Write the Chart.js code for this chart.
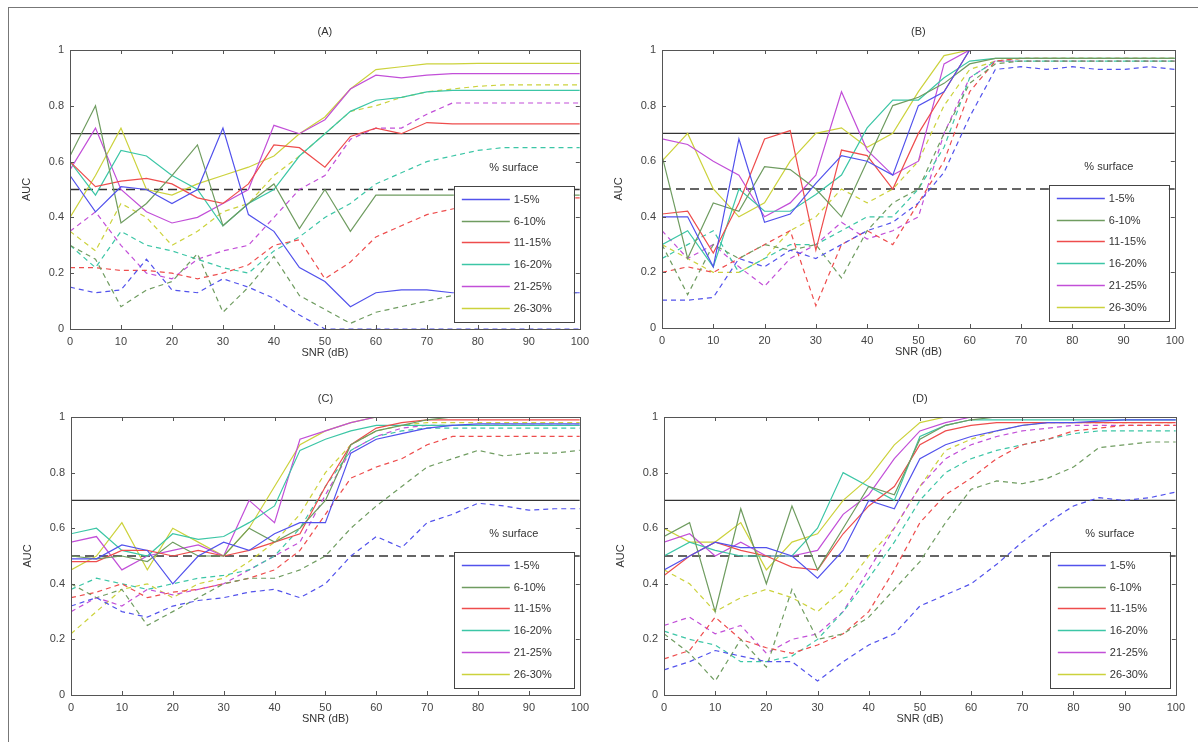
<!DOCTYPE html>
<html>
<head>
<meta charset="utf-8">
<script src="https://cdn.jsdelivr.net/npm/chart.js@4.4.1/dist/chart.umd.min.js"></script>
<style>
  body { margin: 0; background: #fff; }
  #fig { position: relative; width: 1198px; height: 742px; overflow: hidden; background: #fff; }
  #frame { position: absolute; left: 8px; top: 7px; width: 1400px; height: 900px; border-left: 1px solid #777; border-top: 1px solid #777; }
  canvas { position: absolute; }
</style>
</head>
<body>
<div id="fig">
  <div id="frame"></div>
  <canvas id="cA" width="575" height="354" style="left:20px;top:20px"></canvas>
  <canvas id="cB" width="578" height="353" style="left:612px;top:20px"></canvas>
  <canvas id="cC" width="574" height="353" style="left:21px;top:387px"></canvas>
  <canvas id="cD" width="577" height="353" style="left:614px;top:387px"></canvas>
</div>
<script>
// x positions (dB)
const snr = [0, 5, 10, 15, 20, 25, 30, 35, 40, 45, 50, 55, 60, 65, 70, 75, 80, 85, 90, 95, 100];
const groups = ['1-5%', '6-10%', '11-15%', '16-20%', '21-25%', '26-30%'];
const colors = ['#5252ec', '#6f9c60', '#ee4d4d', '#3cc6a6', '#c24fd8', '#ccd23c'];
const thresholds = [0.7, 0.5];

// (A) solid / dashed, one row per group
const solidA = [
  [0.55, 0.42, 0.51, 0.50, 0.45, 0.50, 0.72, 0.41, 0.35, 0.22, 0.17, 0.08, 0.13, 0.14, 0.14, 0.13, 0.13, 0.13, 0.13, 0.13, 0.13],
  [0.62, 0.80, 0.38, 0.45, 0.55, 0.66, 0.37, 0.45, 0.52, 0.36, 0.50, 0.35, 0.48, 0.48, 0.48, 0.48, 0.48, 0.48, 0.48, 0.48, 0.48],
  [0.60, 0.51, 0.53, 0.54, 0.52, 0.47, 0.45, 0.52, 0.66, 0.65, 0.58, 0.69, 0.72, 0.70, 0.74, 0.735, 0.735, 0.735, 0.735, 0.735, 0.735],
  [0.60, 0.48, 0.64, 0.62, 0.55, 0.50, 0.37, 0.45, 0.50, 0.62, 0.70, 0.78, 0.82, 0.83, 0.85, 0.855, 0.855, 0.855, 0.855, 0.855, 0.855],
  [0.57, 0.72, 0.50, 0.42, 0.38, 0.40, 0.45, 0.50, 0.73, 0.70, 0.75, 0.86, 0.91, 0.90, 0.91, 0.915, 0.915, 0.915, 0.915, 0.915, 0.915],
  [0.40, 0.55, 0.72, 0.50, 0.48, 0.52, 0.55, 0.58, 0.62, 0.70, 0.76, 0.86, 0.93, 0.94, 0.95, 0.95, 0.952, 0.952, 0.952, 0.952, 0.952]
];
const dashedA = [
  [0.15, 0.13, 0.14, 0.25, 0.14, 0.13, 0.18, 0.15, 0.11, 0.05, 0.00, 0.00, 0.00, 0.00, 0.00, 0.00, 0.00, 0.00, 0.00, 0.00, 0.00],
  [0.30, 0.25, 0.08, 0.14, 0.17, 0.27, 0.06, 0.15, 0.26, 0.12, 0.07, 0.02, 0.06, 0.08, 0.10, 0.12, 0.13, 0.13, 0.13, 0.13, 0.13],
  [0.22, 0.22, 0.21, 0.21, 0.20, 0.18, 0.20, 0.23, 0.30, 0.32, 0.18, 0.24, 0.33, 0.37, 0.41, 0.43, 0.45, 0.46, 0.47, 0.47, 0.47],
  [0.30, 0.22, 0.35, 0.30, 0.28, 0.25, 0.22, 0.20, 0.28, 0.33, 0.40, 0.45, 0.52, 0.56, 0.60, 0.62, 0.64, 0.65, 0.65, 0.65, 0.65],
  [0.35, 0.42, 0.30, 0.20, 0.18, 0.25, 0.28, 0.30, 0.40, 0.50, 0.55, 0.68, 0.72, 0.72, 0.77, 0.81, 0.81, 0.81, 0.81, 0.81, 0.81],
  [0.35, 0.28, 0.45, 0.40, 0.30, 0.35, 0.42, 0.45, 0.55, 0.62, 0.70, 0.78, 0.80, 0.83, 0.85, 0.86, 0.87, 0.875, 0.875, 0.875, 0.875]
];

// (B)
const solidB = [
  [0.40, 0.40, 0.22, 0.68, 0.38, 0.41, 0.52, 0.62, 0.60, 0.55, 0.80, 0.85, 1, 1, 1, 1, 1, 1, 1, 1, 1],
  [0.62, 0.25, 0.45, 0.42, 0.58, 0.57, 0.50, 0.40, 0.60, 0.80, 0.83, 0.88, 0.95, 0.97, 0.97, 0.97, 0.97, 0.97, 0.97, 0.97, 0.97],
  [0.41, 0.42, 0.27, 0.45, 0.68, 0.71, 0.28, 0.64, 0.62, 0.50, 0.70, 0.85, 1, 1, 1, 1, 1, 1, 1, 1, 1],
  [0.30, 0.35, 0.22, 0.50, 0.42, 0.42, 0.48, 0.55, 0.72, 0.82, 0.82, 0.90, 0.96, 0.97, 0.97, 0.97, 0.97, 0.97, 0.97, 0.97, 0.97],
  [0.68, 0.66, 0.60, 0.55, 0.40, 0.45, 0.55, 0.85, 0.64, 0.55, 0.60, 0.95, 1, 1, 1, 1, 1, 1, 1, 1, 1],
  [0.60, 0.70, 0.50, 0.40, 0.45, 0.60, 0.70, 0.72, 0.65, 0.70, 0.85, 0.98, 1, 1, 1, 1, 1, 1, 1, 1, 1]
];
const dashedB = [
  [0.10, 0.10, 0.11, 0.25, 0.22, 0.28, 0.25, 0.30, 0.35, 0.38, 0.45, 0.56, 0.76, 0.93, 0.94, 0.93, 0.94, 0.93, 0.93, 0.94, 0.93],
  [0.30, 0.12, 0.30, 0.25, 0.30, 0.28, 0.30, 0.18, 0.35, 0.45, 0.50, 0.70, 0.88, 0.95, 0.96, 0.96, 0.96, 0.96, 0.96, 0.96, 0.96],
  [0.20, 0.22, 0.20, 0.25, 0.30, 0.35, 0.08, 0.30, 0.35, 0.30, 0.45, 0.60, 0.85, 0.96, 0.97, 0.97, 0.97, 0.97, 0.97, 0.97, 0.97],
  [0.25, 0.30, 0.35, 0.20, 0.25, 0.30, 0.30, 0.35, 0.40, 0.40, 0.50, 0.65, 0.90, 0.96, 0.96, 0.96, 0.96, 0.96, 0.96, 0.96, 0.96],
  [0.35, 0.25, 0.30, 0.22, 0.15, 0.25, 0.30, 0.38, 0.32, 0.35, 0.40, 0.70, 0.90, 0.96, 0.96, 0.96, 0.96, 0.96, 0.96, 0.96, 0.96],
  [0.30, 0.25, 0.20, 0.20, 0.25, 0.35, 0.40, 0.50, 0.45, 0.50, 0.60, 0.80, 0.93, 0.96, 0.97, 0.97, 0.97, 0.97, 0.97, 0.97, 0.97]
];

// (C)
const solidC = [
  [0.49, 0.49, 0.54, 0.52, 0.40, 0.50, 0.55, 0.52, 0.58, 0.62, 0.62, 0.87, 0.92, 0.94, 0.96, 0.97, 0.975, 0.975, 0.975, 0.975, 0.975],
  [0.50, 0.49, 0.50, 0.48, 0.55, 0.50, 0.50, 0.60, 0.55, 0.60, 0.70, 0.90, 0.95, 0.97, 0.99, 1, 1, 1, 1, 1, 1],
  [0.48, 0.48, 0.52, 0.52, 0.50, 0.52, 0.50, 0.52, 0.55, 0.58, 0.75, 0.90, 0.96, 0.98, 0.99, 0.99, 0.99, 0.99, 0.99, 0.99, 0.99],
  [0.58, 0.60, 0.52, 0.50, 0.58, 0.56, 0.57, 0.62, 0.68, 0.88, 0.92, 0.95, 0.97, 0.97, 0.97, 0.97, 0.97, 0.97, 0.97, 0.97, 0.97],
  [0.55, 0.57, 0.45, 0.50, 0.52, 0.54, 0.50, 0.70, 0.62, 0.92, 0.95, 0.98, 1, 1, 1, 1, 1, 1, 1, 1, 1],
  [0.45, 0.50, 0.62, 0.45, 0.60, 0.55, 0.50, 0.60, 0.75, 0.90, 0.95, 0.98, 1, 1, 1, 1, 1, 1, 1, 1, 1]
];
const dashedC = [
  [0.32, 0.35, 0.30, 0.28, 0.32, 0.34, 0.35, 0.37, 0.38, 0.35, 0.40, 0.50, 0.57, 0.53, 0.62, 0.65, 0.69, 0.68, 0.665, 0.67, 0.67],
  [0.40, 0.35, 0.38, 0.25, 0.30, 0.35, 0.40, 0.42, 0.42, 0.45, 0.50, 0.60, 0.68, 0.75, 0.82, 0.85, 0.88, 0.86, 0.87, 0.87, 0.88],
  [0.35, 0.37, 0.40, 0.35, 0.37, 0.38, 0.40, 0.42, 0.45, 0.52, 0.65, 0.78, 0.82, 0.85, 0.90, 0.93, 0.93, 0.93, 0.93, 0.93, 0.93],
  [0.38, 0.42, 0.40, 0.38, 0.40, 0.42, 0.43, 0.45, 0.50, 0.60, 0.75, 0.88, 0.93, 0.95, 0.96, 0.96, 0.96, 0.96, 0.96, 0.96, 0.96],
  [0.30, 0.35, 0.32, 0.38, 0.36, 0.38, 0.40, 0.45, 0.50, 0.55, 0.72, 0.88, 0.93, 0.96, 0.97, 0.97, 0.97, 0.97, 0.97, 0.97, 0.97],
  [0.22, 0.30, 0.38, 0.40, 0.35, 0.40, 0.42, 0.48, 0.55, 0.65, 0.80, 0.90, 0.95, 0.97, 0.98, 0.98, 0.98, 0.98, 0.98, 0.98, 0.98]
];

// (D)
const solidD = [
  [0.45, 0.50, 0.55, 0.53, 0.53, 0.50, 0.42, 0.52, 0.70, 0.67, 0.85, 0.90, 0.93, 0.95, 0.97, 0.98, 0.98, 0.985, 0.99, 0.99, 0.99],
  [0.57, 0.62, 0.30, 0.67, 0.40, 0.68, 0.45, 0.60, 0.75, 0.72, 0.92, 0.97, 0.99, 1, 1, 1, 1, 1, 1, 1, 1],
  [0.43, 0.50, 0.55, 0.52, 0.50, 0.46, 0.45, 0.58, 0.68, 0.75, 0.90, 0.95, 0.97, 0.98, 0.98, 0.98, 0.98, 0.98, 0.98, 0.98, 0.98],
  [0.50, 0.55, 0.52, 0.50, 0.50, 0.50, 0.60, 0.80, 0.75, 0.70, 0.93, 0.97, 0.99, 0.99, 0.99, 0.99, 0.99, 0.99, 0.99, 0.99, 0.99],
  [0.55, 0.58, 0.50, 0.55, 0.50, 0.50, 0.52, 0.65, 0.72, 0.85, 0.95, 0.98, 1, 1, 1, 1, 1, 1, 1, 1, 1],
  [0.60, 0.55, 0.55, 0.62, 0.45, 0.55, 0.58, 0.70, 0.78, 0.90, 0.98, 1, 1, 1, 1, 1, 1, 1, 1, 1, 1]
];
const dashedD = [
  [0.09, 0.12, 0.16, 0.14, 0.12, 0.12, 0.05, 0.12, 0.18, 0.22, 0.32, 0.36, 0.40, 0.47, 0.55, 0.62, 0.68, 0.71, 0.70, 0.71, 0.73],
  [0.22, 0.15, 0.05, 0.20, 0.10, 0.38, 0.20, 0.22, 0.28, 0.38, 0.48, 0.62, 0.74, 0.77, 0.76, 0.78, 0.82, 0.89, 0.90, 0.91, 0.91],
  [0.13, 0.16, 0.28, 0.20, 0.17, 0.15, 0.18, 0.22, 0.30, 0.45, 0.62, 0.72, 0.78, 0.85, 0.90, 0.92, 0.95, 0.96, 0.97, 0.97, 0.97],
  [0.23, 0.20, 0.18, 0.12, 0.12, 0.14, 0.20, 0.30, 0.42, 0.55, 0.70, 0.80, 0.85, 0.88, 0.90, 0.92, 0.94, 0.95, 0.95, 0.95, 0.95],
  [0.25, 0.28, 0.22, 0.25, 0.15, 0.20, 0.22, 0.30, 0.45, 0.60, 0.75, 0.85, 0.90, 0.93, 0.95, 0.96, 0.97, 0.97, 0.97, 0.97, 0.97],
  [0.45, 0.40, 0.30, 0.35, 0.38, 0.35, 0.30, 0.38, 0.50, 0.60, 0.75, 0.88, 0.92, 0.95, 0.97, 0.98, 0.98, 0.98, 0.98, 0.98, 0.98]
];

Chart.defaults.font.family = '"Liberation Sans", Arial, sans-serif';
Chart.defaults.font.size = 11;
Chart.defaults.color = '#444';

const toPoints = vals => vals.map((v, i) => ({ x: snr[i], y: v }));

// MATLAB-style box, inward ticks, panel title and the legend inside the axes
const panelDecor = {
  id: 'panelDecor',
  afterDatasetsDraw(chart, args, opts) {
    const { ctx, chartArea: a, scales: { x, y } } = chart;
    ctx.save();
    ctx.strokeStyle = '#555';
    ctx.lineWidth = 1;
    ctx.strokeRect(Math.round(a.left) + 0.5, Math.round(a.top) + 0.5, Math.round(a.right - a.left), Math.round(a.bottom - a.top));
    ctx.beginPath();
    x.ticks.forEach(t => {
      const px = Math.round(x.getPixelForValue(t.value)) + 0.5;
      ctx.moveTo(px, a.bottom); ctx.lineTo(px, a.bottom - 4);
      ctx.moveTo(px, a.top); ctx.lineTo(px, a.top + 4);
    });
    y.ticks.forEach(t => {
      const py = Math.round(y.getPixelForValue(t.value)) + 0.5;
      ctx.moveTo(a.left, py); ctx.lineTo(a.left + 4, py);
      ctx.moveTo(a.right, py); ctx.lineTo(a.right - 4, py);
    });
    ctx.stroke();

    ctx.fillStyle = '#333';
    ctx.font = '11px "Liberation Sans", Arial, sans-serif';
    ctx.textAlign = 'center';
    ctx.textBaseline = 'middle';
    ctx.fillText(opts.title, (a.left + a.right) / 2, a.top - 18);

    const w = 120, h = 136;
    const lx = a.right - 6 - w, ly = a.bottom - 7 - h;
    ctx.fillText('% surface', lx + w / 2, ly - 18);
    ctx.fillStyle = '#fff';
    ctx.fillRect(lx, ly, w, h);
    ctx.strokeStyle = '#444';
    ctx.strokeRect(Math.round(lx) + 0.5, Math.round(ly) + 0.5, w, h);
    groups.forEach((g, i) => {
      const yy = Math.round(ly + 13 + i * 21.7) + 0.5;
      ctx.strokeStyle = colors[i];
      ctx.lineWidth = 1.5;
      ctx.beginPath();
      ctx.moveTo(lx + 8, yy); ctx.lineTo(lx + 56, yy);
      ctx.stroke();
      ctx.fillStyle = '#333';
      ctx.textAlign = 'left';
      ctx.fillText(g, lx + 60, yy);
    });
    ctx.restore();
  }
};

function makePanel(id, title, solid, dashed) {
  const datasets = [];
  solid.forEach((vals, i) => datasets.push({
    label: groups[i], data: toPoints(vals), borderColor: colors[i], borderWidth: 1.2
  }));
  dashed.forEach((vals, i) => datasets.push({
    label: groups[i] + ' (dashed)', data: toPoints(vals), borderColor: colors[i], borderWidth: 1.2, borderDash: [5, 4]
  }));
  datasets.push({ label: 'ref 0.7', data: [{ x: 0, y: thresholds[0] }, { x: 100, y: thresholds[0] }], borderColor: '#333', borderWidth: 1.3 });
  datasets.push({ label: 'ref 0.5', data: [{ x: 0, y: thresholds[1] }, { x: 100, y: thresholds[1] }], borderColor: '#333', borderWidth: 1.3, borderDash: [9, 5] });

  new Chart(document.getElementById(id), {
    type: 'line',
    data: { datasets },
    options: {
      responsive: false,
      animation: false,
      events: [],
      layout: { padding: { top: 30, right: 12, left: 0, bottom: 0 } },
      elements: { point: { radius: 0 }, line: { tension: 0, fill: false } },
      plugins: { legend: { display: false }, tooltip: { enabled: false }, panelDecor: { title } },
      scales: {
        x: {
          type: 'linear', min: 0, max: 100,
          ticks: { stepSize: 10, padding: 6, color: '#444' },
          grid: { display: false, drawTicks: false },
          border: { display: false },
          title: { display: true, text: 'SNR (dB)', color: '#333', padding: { top: 0, bottom: 14 } },
          afterFit(s) { s.height = 45; }
        },
        y: {
          min: 0, max: 1,
          ticks: { stepSize: 0.2, padding: 6, color: '#444', callback: v => String(Number(v.toFixed(1))) },
          grid: { display: false, drawTicks: false },
          border: { display: false },
          title: { display: true, text: 'AUC', color: '#333', padding: { top: 0, bottom: 0 } },
          afterFit(s) { s.width = 50; }
        }
      }
    },
    plugins: [panelDecor]
  });
}

makePanel('cA', '(A)', solidA, dashedA);
makePanel('cB', '(B)', solidB, dashedB);
makePanel('cC', '(C)', solidC, dashedC);
makePanel('cD', '(D)', solidD, dashedD);
</script>
</body>
</html>
